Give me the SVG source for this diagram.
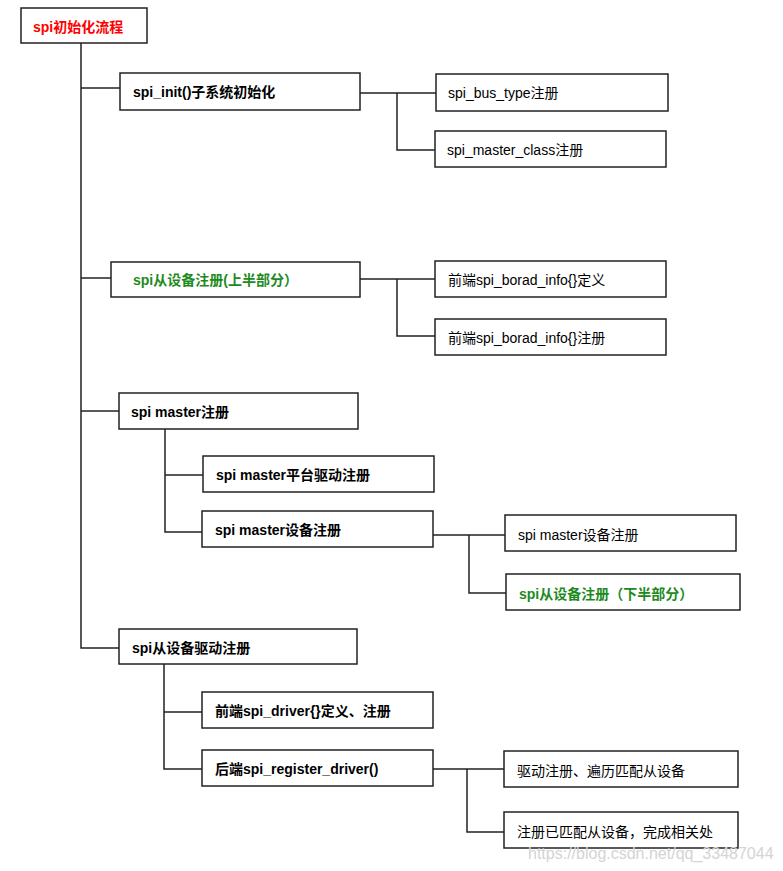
<svg xmlns="http://www.w3.org/2000/svg" width="783" height="871" viewBox="0 0 783 871">
<style>
.box{fill:#fff;stroke:#222;stroke-width:1.5}
.c{fill:none;stroke:#222;stroke-width:1.5}
text{font-family:"Liberation Sans","Noto Sans CJK SC",sans-serif;font-size:14px;fill:#000}
.b{font-weight:bold}
.red{fill:#ff0000}
.green{fill:#1e8a1e}
.wm{font-family:"Liberation Sans",sans-serif;font-size:16px;fill:#d4d4d4}
</style>
<rect width="783" height="871" fill="#fff"/>
<g id="connectors">
<path class="c" d="M81 43V648H119"/>
<path class="c" d="M81 88H120"/>
<path class="c" d="M81 278H111"/>
<path class="c" d="M81 411H119"/>
<path class="c" d="M360 93H436M397 93V150H435"/>
<path class="c" d="M360 279H435M397 279V336H435"/>
<path class="c" d="M165 429V532H202M165 475H203"/>
<path class="c" d="M433 535H505M469 535V593H506"/>
<path class="c" d="M164 664V769H202M164 712H202"/>
<path class="c" d="M433 769H504M467 769V832H504"/>
</g>
<g id="root"><rect class="box" x="21" y="8" width="126" height="35"/><text class="b red" x="33" y="32">spi初始化流程</text></g>
<g id="n1"><rect class="box" x="120" y="73" width="240" height="37"/><text class="b" x="133" y="97">spi_init()子系统初始化</text></g>
<g id="n1a"><rect class="box" x="436" y="74" width="232" height="37"/><text x="448" y="98">spi_bus_type注册</text></g>
<g id="n1b"><rect class="box" x="435" y="131" width="231" height="36"/><text x="447" y="155">spi_master_class注册</text></g>
<g id="n2"><rect class="box" x="111" y="262" width="249" height="35"/><text class="b green" x="133" y="285">spi从设备注册(上半部分）</text></g>
<g id="n2a"><rect class="box" x="435" y="261" width="231" height="36"/><text x="448" y="285">前端spi_borad_info{}定义</text></g>
<g id="n2b"><rect class="box" x="435" y="319" width="231" height="36"/><text x="448" y="343">前端spi_borad_info{}注册</text></g>
<g id="n3"><rect class="box" x="119" y="393" width="239" height="36"/><text class="b" x="131" y="417">spi master注册</text></g>
<g id="n3a"><rect class="box" x="203" y="456" width="231" height="36"/><text class="b" x="216" y="480">spi master平台驱动注册</text></g>
<g id="n3b"><rect class="box" x="202" y="511" width="231" height="36"/><text class="b" x="215" y="535">spi master设备注册</text></g>
<g id="n3b1"><rect class="box" x="505" y="515" width="231" height="36"/><text x="518" y="540">spi master设备注册</text></g>
<g id="n3b2"><rect class="box" x="506" y="574" width="234" height="36"/><text class="b green" x="519" y="599">spi从设备注册（下半部分）</text></g>
<g id="n4"><rect class="box" x="119" y="629" width="238" height="35"/><text class="b" x="132" y="653">spi从设备驱动注册</text></g>
<g id="n4a"><rect class="box" x="202" y="692" width="231" height="36"/><text class="b" x="215" y="716">前端spi_driver{}定义、注册</text></g>
<g id="n4b"><rect class="box" x="202" y="750" width="231" height="36"/><text class="b" x="215" y="774">后端spi_register_driver()</text></g>
<g id="n4b1"><rect class="box" x="504" y="751" width="234" height="36"/><text x="517" y="776">驱动注册、遍历匹配从设备</text></g>
<g id="n4b2"><rect class="box" x="504" y="812" width="234" height="36"/><text x="517" y="837">注册已匹配从设备，完成相关处</text></g>
<text class="wm" x="528" y="859">https://blog.csdn.net/qq_33487044</text>
</svg>
